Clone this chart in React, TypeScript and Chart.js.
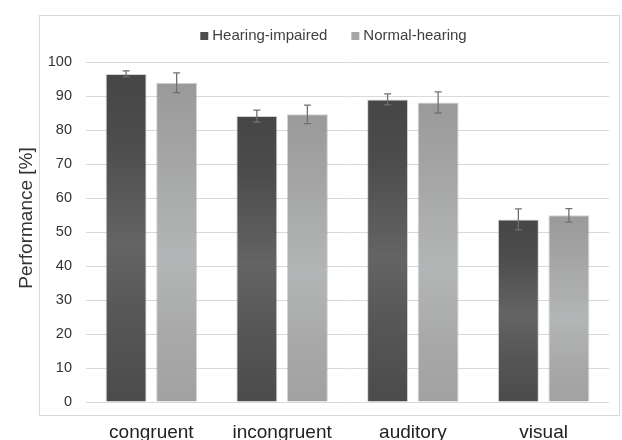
import React, { useEffect, useRef } from "react";
import { Chart, registerables } from "chart.js";

Chart.register(...registerables);

const categories = ["congruent", "incongruent", "auditory", "visual"];
const seriesNames = ["Hearing-impaired", "Normal-hearing"];
const hearingImpaired = [96.5, 84.1, 89.0, 53.7];
const hearingImpairedErr = [0.9, 1.75, 1.6, 3.1];
const normalHearing = [93.9, 84.6, 88.1, 54.9];
const normalHearingErr = [2.9, 2.7, 3.1, 2.0];
const yTicks = [0, 10, 20, 30, 40, 50, 60, 70, 80, 90, 100];
const yTitle = "Performance [%]";

const FONT = '"Liberation Sans", Arial, sans-serif';

const gradStops = [
  [
    [0, "#464646"],
    [0.2, "#4c4c4c"],
    [0.52, "#646464"],
    [0.75, "#565656"],
    [1, "#4b4b4b"],
  ],
  [
    [0, "#9a9a9a"],
    [0.2, "#a3a3a3"],
    [0.55, "#b3b6b6"],
    [0.8, "#a8a8a8"],
    [1, "#a2a2a2"],
  ],
];
const legendColors = ["#4d4d4d", "#a6a6a6"];

function barGradient(ctx: any, dsIndex: number) {
  const chart = ctx.chart;
  const y = chart.scales && chart.scales.y;
  if (!y || !chart.chartArea || ctx.raw === undefined) return legendColors[dsIndex];
  const top = y.getPixelForValue(ctx.raw);
  const base = y.getPixelForValue(0);
  const g = chart.ctx.createLinearGradient(0, top, 0, base);
  for (const [o, c] of gradStops[dsIndex]) g.addColorStop(o as number, c as string);
  return g;
}

const errorBarsPlugin = {
  id: "errorBars",
  afterDatasetsDraw(chart: any) {
    const ctx = chart.ctx;
    const y = chart.scales.y;
    const errs = [hearingImpairedErr, normalHearingErr];
    chart.data.datasets.forEach((ds: any, di: number) => {
      const meta = chart.getDatasetMeta(di);
      meta.data.forEach((bar: any, i: number) => {
        const v = ds.data[i];
        const e = errs[di][i];
        const yt = y.getPixelForValue(v + e);
        const yb = y.getPixelForValue(v - e);
        ctx.save();
        ctx.strokeStyle = "#707070";
        ctx.lineWidth = 1.3;
        ctx.beginPath();
        ctx.moveTo(bar.x, yt);
        ctx.lineTo(bar.x, yb);
        ctx.moveTo(bar.x - 3.5, yt);
        ctx.lineTo(bar.x + 3.5, yt);
        ctx.moveTo(bar.x - 3.5, yb);
        ctx.lineTo(bar.x + 3.5, yb);
        ctx.stroke();
        ctx.restore();
      });
    });
  },
};

const framePlugin = {
  id: "frameAndLegend",
  beforeDraw(chart: any) {
    const ctx = chart.ctx;
    const a = chart.chartArea;
    ctx.save();
    ctx.fillStyle = "#ffffff";
    ctx.fillRect(0, 0, chart.width, chart.height);
    ctx.strokeStyle = "#d9d9d9";
    ctx.lineWidth = 1;
    ctx.strokeRect(a.left - 46.5, a.top - 46.5, a.right - a.left + 57, a.bottom - a.top + 60);
    ctx.restore();
  },
  afterDraw(chart: any) {
    const ctx = chart.ctx;
    const a = chart.chartArea;
    ctx.save();
    ctx.fillStyle = "#333333";
    ctx.font = `19px ${FONT}`;
    ctx.textAlign = "center";
    ctx.textBaseline = "middle";
    ctx.translate(a.left - 59, (a.top + a.bottom) / 2 - 14);
    ctx.rotate(-Math.PI / 2);
    ctx.fillText(yTitle, 0, 0);
    ctx.restore();

    ctx.save();
    ctx.font = `15px ${FONT}`;
    ctx.textBaseline = "middle";
    ctx.textAlign = "left";
    const box = 8;
    const gap = 4;
    const spacing = 24;
    const names = chart.data.datasets.map((d: any) => d.label);
    const widths = names.map((n: string) => ctx.measureText(n).width);
    let total = 0;
    widths.forEach((w: number, i: number) => {
      total += box + gap + w + (i > 0 ? spacing : 0);
    });
    const cx = a.left - 14 + (a.right - a.left) / 2;
    let x = cx - total / 2;
    const cy = a.top - 26;
    names.forEach((n: string, i: number) => {
      ctx.fillStyle = legendColors[i];
      ctx.fillRect(x, cy - box / 2, box, box);
      ctx.fillStyle = "#404040";
      ctx.fillText(n, x + box + gap, cy);
      x += box + gap + widths[i] + spacing;
    });
    ctx.restore();
  },
};

export default function App() {
  const ref = useRef<HTMLCanvasElement>(null);
  useEffect(() => {
    if (!ref.current) return;
    const chart = new Chart(ref.current, {
      type: "bar",
      data: {
        labels: categories,
        datasets: [
          {
            label: seriesNames[0],
            data: hearingImpaired,
            backgroundColor: (c: any) => barGradient(c, 0),
            borderColor: "rgba(130,128,150,0.35)",
            borderWidth: 1,
            categoryPercentage: 0.773,
            barPercentage: 0.81,
          },
          {
            label: seriesNames[1],
            data: normalHearing,
            backgroundColor: (c: any) => barGradient(c, 1),
            borderColor: "rgba(130,128,150,0.35)",
            borderWidth: 1,
            categoryPercentage: 0.773,
            barPercentage: 0.81,
          },
        ],
      },
      options: {
        responsive: false,
        animation: false,
        layout: { padding: { top: 62, right: 13, bottom: 0, left: 0 } },
        plugins: {
          legend: { display: false },
          tooltip: { enabled: false },
        },
        scales: {
          x: {
            grid: { display: false },
            border: { display: false },
            ticks: {
              color: "#222222",
              font: { family: FONT, size: 19 },
              padding: 11,
            },
            afterFit: (s: any) => {
              s.height = 38;
            },
          },
          y: {
            min: 0,
            max: 100,
            afterBuildTicks: (s: any) => {
              s.ticks = yTicks.map((v) => ({ value: v }));
            },
            grid: { color: "#d9d9d9", drawTicks: false, lineWidth: 1 },
            border: { display: false },
            ticks: {
              color: "#333333",
              font: { family: FONT, size: 14.5 },
              padding: 14,
            },
            afterFit: (s: any) => {
              s.width = 86;
            },
          },
        },
      },
      plugins: [framePlugin, errorBarsPlugin],
    });
    return () => chart.destroy();
  }, []);
  return (
    <div style={{ position: "absolute", left: 0, top: 0, width: 622, height: 440, background: "#fff" }}>
      <canvas ref={ref} width={622} height={440} style={{ display: "block" }} />
    </div>
  );
}
